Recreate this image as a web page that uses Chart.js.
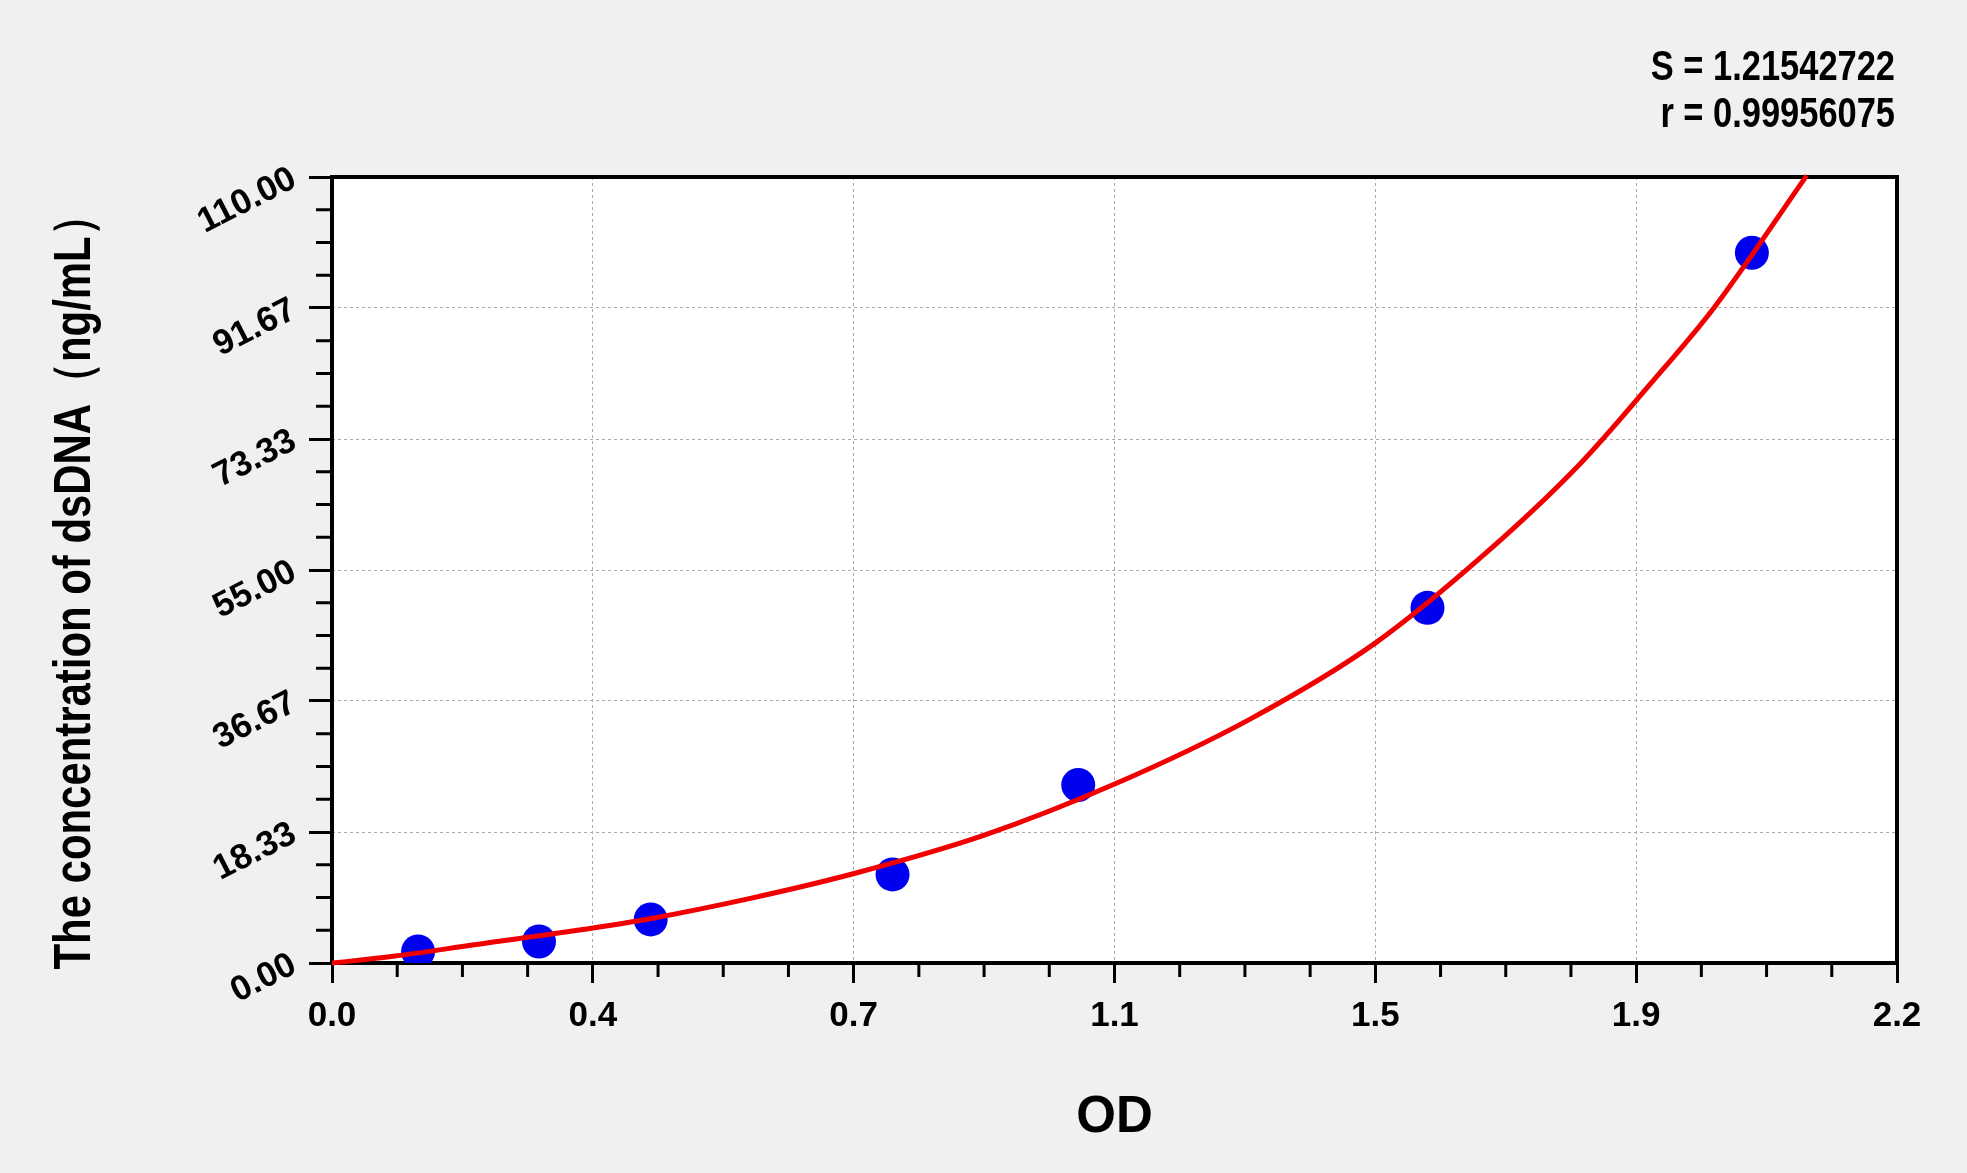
<!DOCTYPE html>
<html>
<head>
<meta charset="utf-8">
<script src="https://cdn.jsdelivr.net/npm/chart.js@4.4.1/dist/chart.umd.min.js"></script>
<style>
  html, body { margin: 0; padding: 0; background: #f0f0f0; }
</style>
</head>
<body>
<canvas id="myChart" width="1967" height="1173"></canvas>
<script>
// standards (OD vs concentration)
const odValues = [0.121, 0.291, 0.448, 0.788, 1.049, 1.540, 1.996];
const concValues = [1.6, 3.0, 6.1, 12.4, 24.9, 49.7, 99.4];

// fitted curve, points
const curveOD = [0, 0.086, 0.2, 0.365, 0.447, 0.588, 0.734, 0.916, 1.097, 1.290, 1.467, 1.619, 1.754, 1.853, 1.942, 2.073];
const curveConc = [0, 0.93, 2.55, 4.87, 6.2, 9.05, 12.53, 17.86, 24.9, 34.1, 44.8, 57.1, 69.8, 81.0, 91.6, 110.2];

const xTickValues = [0, 0.3667, 0.7333, 1.1, 1.4667, 1.8333, 2.2];
const xTickLabels = ['0.0', '0.4', '0.7', '1.1', '1.5', '1.9', '2.2'];
const yTickValues = [0, 18.333, 36.667, 55, 73.333, 91.667, 110];
const yTickLabels = ['0.00', '18.33', '36.67', '55.00', '73.33', '91.67', '110.00'];

const fitS = 'S = 1.21542722';
const fitR = 'r = 0.99956075';
const xTitle = 'OD';
const yTitle = 'The concentration of dsDNA\uFF08ng/mL\uFF09';

const FONT = "'Liberation Sans', Arial, sans-serif";

const framePlugin = {
    id: 'framePlugin',
    beforeDraw(chart) {
        const {ctx, chartArea: a} = chart;
        ctx.save();
        ctx.fillStyle = '#f0f0f0';
        ctx.fillRect(0, 0, chart.width, chart.height);
        ctx.fillStyle = '#ffffff';
        ctx.fillRect(a.left, a.top, a.right - a.left, a.bottom - a.top);
        ctx.restore();
    },
    beforeDatasetsDraw(chart) {
        const {ctx, chartArea: a, scales} = chart;
        ctx.save();
        ctx.strokeStyle = '#000';
        ctx.lineWidth = 3;
        ctx.beginPath();
        // minor ticks, 3 between each pair of major ticks
        for (let i = 0; i < xTickValues.length - 1; i++) {
            for (let k = 1; k < 4; k++) {
                const v = xTickValues[i] + (xTickValues[i + 1] - xTickValues[i]) * k / 4;
                const px = scales.x.getPixelForValue(v);
                ctx.moveTo(px, a.bottom);
                ctx.lineTo(px, a.bottom + 14);
            }
        }
        for (let i = 0; i < yTickValues.length - 1; i++) {
            for (let k = 1; k < 4; k++) {
                const v = yTickValues[i] + (yTickValues[i + 1] - yTickValues[i]) * k / 4;
                const py = scales.y.getPixelForValue(v);
                ctx.moveTo(a.left, py);
                ctx.lineTo(a.left - 16, py);
            }
        }
        ctx.stroke();
        ctx.lineWidth = 4;
        ctx.strokeRect(a.left, a.top, a.right - a.left, a.bottom - a.top);
        ctx.restore();
    },
    afterDraw(chart) {
        const {ctx, chartArea: a} = chart;
        ctx.save();
        ctx.fillStyle = '#000';

        // y title, narrow bold
        ctx.save();
        ctx.font = 'bold 52px ' + FONT;
        const w = ctx.measureText(yTitle).width;
        ctx.translate(90, 582);
        ctx.rotate(-Math.PI / 2);
        ctx.scale(775 / w, 1);
        ctx.textAlign = 'center';
        ctx.textBaseline = 'alphabetic';
        ctx.fillText(yTitle, 0, 0);
        ctx.restore();

        // x title
        ctx.font = 'bold 51px ' + FONT;
        ctx.textAlign = 'center';
        ctx.textBaseline = 'alphabetic';
        ctx.fillText(xTitle, (a.left + a.right) / 2, 1132);

        // fit statistics, top right
        ctx.font = 'bold 42px ' + FONT;
        ctx.textAlign = 'right';
        [[fitS, 80], [fitR, 127]].forEach(([t, yb]) => {
            ctx.save();
            ctx.translate(1895, yb);
            ctx.scale(0.82, 1);
            ctx.fillText(t, 0, 0);
            ctx.restore();
        });
        ctx.restore();
    }
};

new Chart(document.getElementById('myChart').getContext('2d'), {
    type: 'scatter',
    data: {
        datasets: [
            {
                type: 'line',
                label: 'fit',
                data: curveOD.map((x, i) => ({x: x, y: curveConc[i]})),
                borderColor: '#f00000',
                borderWidth: 5,
                pointRadius: 0,
                cubicInterpolationMode: 'monotone',
                fill: false,
                clip: false,
                order: 0
            },
            {
                label: 'standards',
                data: odValues.map((x, i) => ({x: x, y: concValues[i]})),
                backgroundColor: '#0000f0',
                borderColor: '#0000f0',
                borderWidth: 0,
                pointRadius: 17,
                pointHoverRadius: 17,
                order: 1
            }
        ]
    },
    options: {
        responsive: false,
        devicePixelRatio: 1,
        animation: false,
        layout: {padding: {left: 0, right: 70, top: 177, bottom: 0}},
        plugins: {
            legend: {display: false},
            tooltip: {enabled: false}
        },
        scales: {
            x: {
                type: 'linear',
                position: 'bottom',
                min: 0,
                max: 2.2,
                afterBuildTicks: (s) => { s.ticks = xTickValues.map(v => ({value: v})); },
                afterFit: (s) => { s.height = 210; },
                border: {display: false, dash: [3, 3]},
                grid: {
                    color: '#ababab',
                    lineWidth: 1,
                    tickColor: '#000',
                    tickWidth: 3,
                    tickLength: 20,
                    tickBorderDash: []
                },
                ticks: {
                    callback: (v, i) => xTickLabels[i],
                    font: {family: FONT, size: 35, weight: 'bold'},
                    color: '#000',
                    padding: 12,
                    minRotation: 0,
                    maxRotation: 0,
                    autoSkip: false
                }
            },
            y: {
                type: 'linear',
                position: 'left',
                min: 0,
                max: 110,
                afterBuildTicks: (s) => { s.ticks = yTickValues.map(v => ({value: v})); },
                afterFit: (s) => { s.width = 332; },
                border: {display: false, dash: [3, 3]},
                grid: {
                    color: '#ababab',
                    lineWidth: 1,
                    tickColor: '#000',
                    tickWidth: 3,
                    tickLength: 23,
                    tickBorderDash: []
                },
                ticks: {
                    callback: (v, i) => yTickLabels[i],
                    font: {family: FONT, size: 35, weight: 'bold'},
                    color: '#000',
                    padding: 15,
                    minRotation: 27,
                    maxRotation: 27,
                    autoSkip: false
                }
            }
        }
    },
    plugins: [framePlugin]
});
</script>
</body>
</html>
